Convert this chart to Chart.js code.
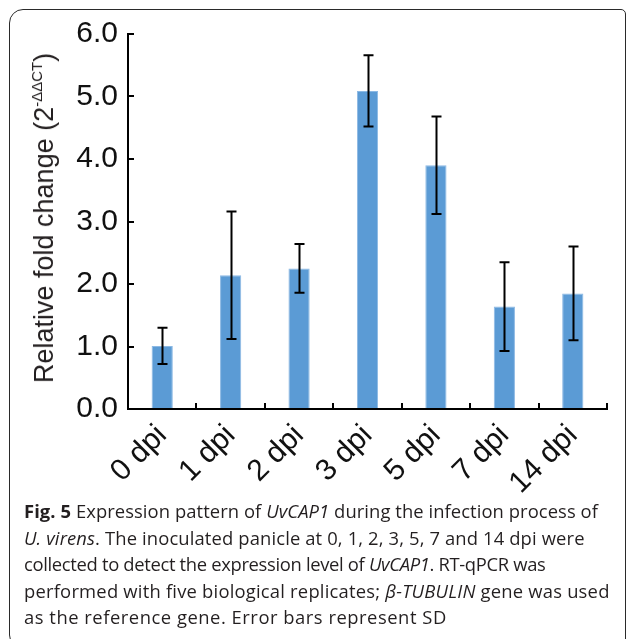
<!DOCTYPE html>
<html>
<head>
<meta charset="utf-8">
<script src="https://cdn.jsdelivr.net/npm/chart.js@4/dist/chart.umd.min.js"></script>
<style>
  html, body { margin: 0; padding: 0; background: #fff; }
  body { width: 627px; height: 639px; position: relative; overflow: hidden; }
  #frame { position: absolute; left: 9px; top: 9px; width: 617px; height: 640px;
           border: 1.5px solid #2a2a2a; border-radius: 14px 5px 5px 14px; box-sizing: border-box; }
  #wrap { position: absolute; left: 0; top: 0; width: 627px; height: 500px; }
  #ytitle { position: absolute; left: 46px; top: 218px; transform: translate(-50%, -50%) rotate(-90deg);
            font-family: "Liberation Sans", Arial, sans-serif; font-size: 27px; color: #231f20;
            white-space: nowrap; line-height: 30px; }
  #ytitle sup { font-size: 15px; vertical-align: 0; position: relative; top: -11px; }
  #caption { position: absolute; left: 24px; top: 498px; font-family: "Open Sans", sans-serif;
             font-size: 18.4px; line-height: 26.5px; color: #231f20; white-space: nowrap; }
  #caption span { display: block; }
</style>
</head>
<body>
<div id="frame"></div>
<div id="wrap"><canvas id="c" width="627" height="500"></canvas></div>
<div id="ytitle">Relative fold change (2<sup>-ΔΔCT</sup>)</div>
<div id="caption"><span style="letter-spacing:0.07px"><b>Fig. 5</b> Expression pattern of <i>UvCAP1</i> during the infection process of</span><span style="letter-spacing:0.13px"><i>U. virens</i>. The inoculated panicle at 0, 1, 2, 3, 5, 7 and 14 dpi were</span><span style="letter-spacing:-0.33px">collected to detect the expression level of <i>UvCAP1</i>. RT-qPCR was</span><span style="letter-spacing:0.21px">performed with five biological replicates; <i>β-TUBULIN</i> gene was used</span><span style="letter-spacing:0.52px">as the reference gene. Error bars represent SD</span></div>
<script>
const categories = ["0 dpi", "1 dpi", "2 dpi", "3 dpi", "5 dpi", "7 dpi", "14 dpi"];
const meanValues = [1.01, 2.14, 2.25, 5.09, 3.90, 1.64, 1.85];
const sdValues = [0.29, 1.02, 0.39, 0.57, 0.78, 0.71, 0.75];
const yTickValues = [0, 1, 2, 3, 4, 5, 6];

const errorBars = {
  id: 'errorBars',
  afterDatasetsDraw(chart) {
    const ctx = chart.ctx;
    const ys = chart.scales.y;
    const meta = chart.getDatasetMeta(0);
    ctx.save();
    ctx.strokeStyle = '#000';
    ctx.lineWidth = 2;
    meta.data.forEach((bar, i) => {
      const x = Math.round(bar.x) + 0.5;
      const top = ys.getPixelForValue(meanValues[i] + sdValues[i]);
      const bot = ys.getPixelForValue(meanValues[i] - sdValues[i]);
      ctx.beginPath();
      ctx.moveTo(x, top); ctx.lineTo(x, bot);
      ctx.moveTo(x - 5, top); ctx.lineTo(x + 5, top);
      ctx.moveTo(x - 5, bot); ctx.lineTo(x + 5, bot);
      ctx.stroke();
    });
    ctx.restore();
  }
};

const axisFont = { family: '"Liberation Sans", Arial, sans-serif', size: 30 };

new Chart(document.getElementById('c'), {
  type: 'bar',
  data: {
    labels: categories,
    datasets: [{
      data: meanValues,
      backgroundColor: '#5B9BD5',
      borderColor: '#8CB9E4',
      borderWidth: 1,
      barPercentage: 0.31,
      categoryPercentage: 1.0
    }]
  },
  options: {
    responsive: false,
    animation: false,
    devicePixelRatio: 1,
    layout: { padding: { left: 0, top: 33, right: 20, bottom: 0 } },
    plugins: { legend: { display: false }, tooltip: { enabled: false } },
    scales: {
      x: {
        offset: true,
        afterFit(s) { s.height = 91; },
        grid: { display: true, drawOnChartArea: false, drawTicks: true, tickLength: -6, color: '#000', lineWidth: 2, offset: true },
        border: { display: true, color: '#000', width: 2 },
        ticks: { color: '#111', font: axisFont, minRotation: 45, maxRotation: 45, padding: 15, autoSkip: false }
      },
      y: {
        min: 0, max: 6,
        afterFit(s) { s.width = 128; },
        afterBuildTicks(s) { s.ticks = yTickValues.map(v => ({ value: v })); },
        grid: { display: true, drawOnChartArea: false, drawTicks: true, tickLength: -6, color: '#000', lineWidth: 2 },
        border: { display: true, color: '#000', width: 2 },
        ticks: { color: '#111', font: axisFont, padding: 16, callback: v => Number(v).toFixed(1) }
      }
    }
  },
  plugins: [errorBars]
});
</script>
</body>
</html>
